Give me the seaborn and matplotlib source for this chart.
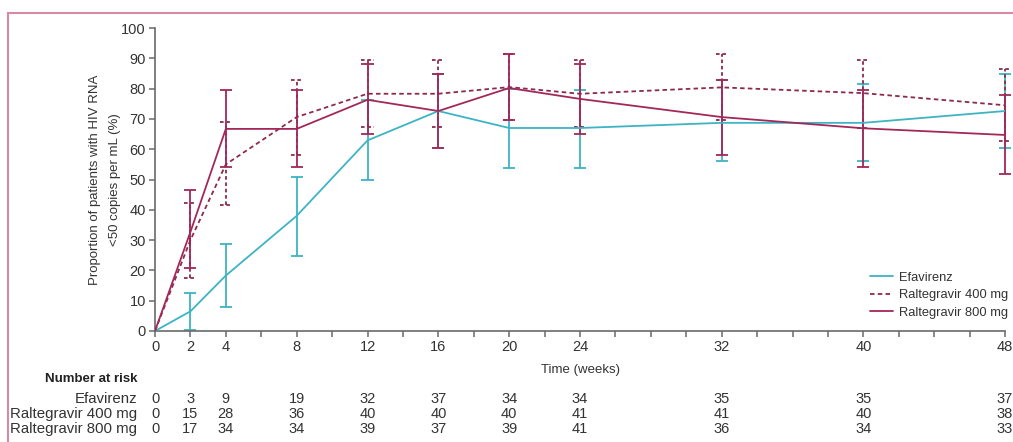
# plot.py
# HIV RNA <50 copies per mL over time, with number-at-risk table underneath

import numpy as np
import pandas as pd
import seaborn as sns
import matplotlib
matplotlib.use("Agg")
import matplotlib.pyplot as plt
from matplotlib.patches import Rectangle
from matplotlib.transforms import blended_transform_factory

# data
weeks = [0, 2, 4, 8, 12, 16, 20, 24, 32, 40, 48]
groups = ["Efavirenz", "Raltegravir 400 mg", "Raltegravir 800 mg"]

efv = [0, 6.5, 18.3, 38.0, 62.9, 72.6, 67.0, 67.0, 68.7, 68.7, 72.6]
efv_lo = [0, 0.3, 7.8, 24.6, 49.7, 60.5, 53.8, 53.8, 56.1, 56.0, 60.4]
efv_hi = [0, 12.6, 28.6, 50.8, 76.3, 84.7, 80.0, 79.6, 83.0, 81.6, 84.8]

r400 = [0, 30.0, 55.0, 70.6, 78.3, 78.3, 80.5, 78.3, 80.4, 78.5, 74.5]
r400_lo = [0, 17.5, 41.5, 58.0, 67.2, 67.2, 69.5, 67.2, 69.5, 67.0, 62.6]
r400_hi = [0, 42.3, 69.0, 83.0, 89.5, 89.5, 91.3, 89.5, 91.3, 89.6, 86.5]

r800 = [0, 32.7, 66.7, 66.7, 76.3, 72.6, 80.2, 76.6, 70.6, 66.9, 64.7]
r800_lo = [0, 20.8, 54.0, 54.0, 64.9, 60.5, 69.5, 64.9, 58.2, 54.0, 51.9]
r800_hi = [0, 46.5, 79.7, 79.7, 88.0, 84.7, 91.3, 88.0, 83.0, 79.6, 78.0]

efv_risk = [0, 3, 9, 19, 32, 37, 34, 34, 35, 35, 37]
r400_risk = [0, 15, 28, 36, 40, 40, 40, 41, 41, 40, 38]
r800_risk = [0, 17, 34, 34, 39, 37, 39, 41, 36, 34, 33]
risk_labels = ["Efavirenz", "Raltegravir 400 mg", "Raltegravir 800 mg"]

x_labelled = [0, 2, 4, 8, 12, 16, 20, 24, 32, 40, 48]

TEAL = "#3db4c3"
MAGENTA = "#a3285a"
DARK_MAGENTA = "#8c2a4e"
TEXT = "#333333"
palette = {"Efavirenz": TEAL, "Raltegravir 400 mg": DARK_MAGENTA, "Raltegravir 800 mg": MAGENTA}

# long-form table for seaborn
df = pd.DataFrame({
    "week": weeks * 3,
    "value": efv + r400 + r800,
    "group": [g for g in groups for _ in weeks],
})

sns.set_style("ticks")
plt.rcParams["font.family"] = ["Liberation Sans", "DejaVu Sans"]
plt.rcParams["font.size"] = 10

fig = plt.figure(figsize=(10.13, 4.42), dpi=100)
fig.patch.set_facecolor("white")
ax = fig.add_axes([155 / 1013, 1 - 331 / 442, 850 / 1013, 303 / 442])


def draw_errors(ax, x, lo, hi, color, ls, cap=0.34):
    """Vertical error bars with caps, skipping empty ones."""
    x = np.asarray(x, float)
    lo = np.asarray(lo, float)
    hi = np.asarray(hi, float)
    keep = hi > lo
    x, lo, hi = x[keep], lo[keep], hi[keep]
    kw = dict(colors=color, linestyles=ls, lw=1.3, zorder=2, clip_on=False)
    ax.vlines(x, lo, hi, **kw)
    ax.hlines(lo, x - cap, x + cap, **kw)
    ax.hlines(hi, x - cap, x + cap, **kw)


draw_errors(ax, weeks, efv_lo, efv_hi, TEAL, "solid")
draw_errors(ax, weeks, r400_lo, r400_hi, DARK_MAGENTA, (0, (2, 1.5)))
draw_errors(ax, weeks, r800_lo, r800_hi, MAGENTA, "solid")

sns.lineplot(
    data=df, x="week", y="value", hue="group", style="group",
    palette=palette,
    dashes={"Efavirenz": "", "Raltegravir 400 mg": (2.5, 1.8), "Raltegravir 800 mg": ""},
    linewidth=1.3, ax=ax, zorder=3,
)

# axes look
ax.set_xlim(0, 48)
ax.set_ylim(0, 100)
for side in ["top", "right"]:
    ax.spines[side].set_visible(False)
for side in ["left", "bottom"]:
    ax.spines[side].set_color("#6a6a6a")
    ax.spines[side].set_linewidth(1.2)

ax.set_xticks(x_labelled)
ax.set_xticks([w for w in range(0, 49, 2) if w not in x_labelled], minor=True)
ax.set_yticks(range(0, 101, 10))
ax.tick_params(which="both", direction="out", length=4.5, width=1.1, color="#6a6a6a",
               labelcolor=TEXT, labelsize=10.5, pad=2)

ax.set_xlabel("Time (weeks)", fontsize=9.5, color=TEXT, va="top")
ax.xaxis.set_label_coords(0.5, -0.108)
ax.set_ylabel("Proportion of patients with HIV RNA\n<50 copies per mL (%)",
              fontsize=9.5, color=TEXT, linespacing=1.9)
ax.yaxis.set_label_coords(-0.04, 0.5)

sns.move_legend(ax, "lower left", bbox_to_anchor=(0.841, 0.04), frameon=False, title=None,
                fontsize=9.3, handlelength=1.8, handletextpad=0.45, labelspacing=0.42,
                borderpad=0, borderaxespad=0)
for t in ax.get_legend().get_texts():
    t.set_color(TEXT)

# number at risk table
tr = blended_transform_factory(ax.transData, fig.transFigure)
fig.text(137 / 1013, 1 - 379 / 442, "Number at risk", ha="right", va="center",
         fontsize=9.5, fontweight="bold", color="#222222")
rows_y = [1 - 399 / 442, 1 - 414 / 442, 1 - 429 / 442]
for label, counts, y in zip(risk_labels, [efv_risk, r400_risk, r800_risk], rows_y):
    fig.text(137 / 1013, y, label, ha="right", va="center", fontsize=10.8, color=TEXT)
    for w, n in zip(weeks, counts):
        ax.text(w, y, str(n), transform=tr, ha="center", va="center",
                fontsize=10.5, color=TEXT, clip_on=False)

# pink panel frame, cut off on the right and bottom like the original
fig.patches.append(Rectangle((8 / 1013, -0.5), 1.5, 0.5 + (1 - 13 / 442),
                             transform=fig.transFigure, fill=False,
                             edgecolor="#d68aa5", lw=1.5, zorder=0))

fig.savefig("out.png", dpi=100, facecolor="white")
